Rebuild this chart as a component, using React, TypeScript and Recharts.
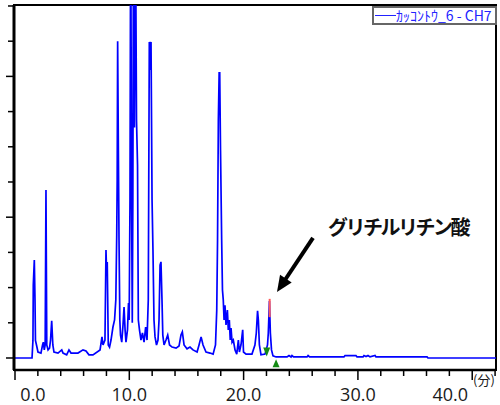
import {
  ComposedChart,
  Line,
  Scatter,
  XAxis,
  YAxis,
  ReferenceArea,
  ReferenceLine,
  Legend,
} from "recharts";

// retention time (min) and detector signal
const TIME_MIN = [
  0, 1.49, 1.57, 1.6, 1.69, 1.75, 1.79, 1.88, 2.01, 2.27, 2.41, 2.48, 2.56, 2.64, 2.71, 2.78, 2.89,
  3.02, 3.11, 3.21, 3.31, 3.41, 3.76, 4.09, 4.2, 4.52, 4.72, 4.9, 5.51, 5.95, 6.21, 6.47, 6.82,
  7.44, 7.61, 7.7, 7.87, 7.96, 8.02, 8.07, 8.16, 8.27, 8.4, 8.57, 8.71, 8.82, 8.9, 8.94, 8.98,
  9.05, 9.1, 9.17, 9.23, 9.34, 9.45, 9.54, 9.63, 9.71, 9.84, 9.93, 9.99, 10.06, 10.12, 10.2,
  10.26, 10.31, 10.37, 10.45, 10.54, 10.63, 10.72, 10.79, 10.89, 11.02, 11.15, 11.29, 11.43,
  11.55, 11.66, 11.75, 11.83, 11.9, 11.99, 12.07, 12.16, 12.25, 12.38, 12.51, 12.6, 12.69, 12.77,
  12.86, 12.93, 13.04, 13.21, 13.36, 13.52, 13.74, 14.09, 14.35, 14.52, 14.64, 14.79, 15.05,
  15.31, 15.57, 15.93, 16.1, 16.28, 16.45, 16.71, 17.06, 17.33, 17.54, 17.65, 17.72, 17.79,
  17.86, 17.91, 17.98, 18.08, 18.15, 18.22, 18.29, 18.37, 18.46, 18.58, 18.66, 18.75, 18.83,
  18.9, 18.99, 19.1, 19.25, 19.4, 19.54, 19.63, 19.77, 19.92, 19.99, 20.21, 20.73, 20.99, 21.11,
  21.22, 21.29, 21.38, 21.52, 21.87, 22.09, 22.16, 22.26, 22.34, 22.44, 22.57, 22.84, 23.8,
  23.97, 24.15, 24.23, 24.37, 25.55, 25.64, 25.77, 28.78, 28.87, 29.83, 29.92, 30.45, 30.53,
  30.71, 30.88, 31.06, 31.5, 31.58, 36.05, 36.13, 42.08,
];
const SIGNAL = [
  0, 0, 0.5, 2.07, 2.78, 1.65, 0.5, 0.37, 0.17, 0.14, 0.37, 0.45, 0.23, 0.37, 4.77, 0.37, 0.23,
  0.28, 0.51, 1.06, 0.37, 0.17, 0.14, 0.23, 0.14, 0.09, 0.23, 0.14, 0.14, 0.23, 0.2, 0.09, 0.09,
  0.23, 0.6, 0.37, 0.51, 3.07, 2.36, 2.73, 0.37, 0.31, 0.51, 0.88, 1.08, 1.65, 3.5, 5.06, 9.0,
  5.6, 3.35, 1.08, 0.65, 0.45, 0.94, 1.45, 0.8, 0.45, 0.8, 1.56, 1.08, 4.5, 13, 4.5,
  1.0, 4.5, 13, 6.55, 12.5, 6.76, 5.48, 1.08, 0.8, 0.51, 0.71, 0.45, 0.88,
  0.51, 1.65, 8.98, 8.18, 8.98, 4.49, 3.07, 1.08, 0.6, 0.37, 0.51, 1.08, 2.64, 2.73,
  1.65, 0.65, 0.37, 0.51, 0.65, 0.37, 0.31, 0.28, 0.34, 0.65, 0.74, 0.37, 0.26,
  0.31, 0.23, 0.17, 0.37, 0.6, 0.37, 0.17, 0.14, 0.11, 0.37, 1.36, 3.35, 6.76,
  8.1, 8.1, 5.9, 3.35, 1.93, 1.65, 1.08, 1.5, 0.94, 1.36, 0.8, 1.08, 0.51,
  0.85, 0.45, 0.51, 0.23, 0.11, 0.51, 0.17, 0.37, 0.8, 0.17, 0.11, 0.11, 0.37, 0.71,
  1.34, 1.08, 0.37, 0.09, 0.11, 0.37, 0.71, 1.62, 0.71, 0.23, 0.06, 0.03, 0.03,
  0.07, 0.03, 0.07, 0.03, 0.03, 0.07, 0.03, 0.03, 0.07, 0.07, 0.03, 0.03, 0.07,
  0.04, 0.07, 0.03, 0.07, 0.03, 0.03, 0, 0,
];

// detected peak top (red) and integration start / end markers
const PEAK_TIME = [22.28, 22.28];
const PEAK_LEVEL = [1.68, 1.16];
const MARK_TIME = [22.02, 22.84];
const MARK_LEVEL = [0.17, -0.15];
const MARK_KIND = ["start", "end"];

const X_TICKS = [0, 2, 4, 6, 8, 10, 12, 14, 16, 18, 20, 22, 24, 26, 28, 30, 32, 34, 36, 38, 40, 42];
const Y_TICKS = [0, 1, 2, 3, 4, 5, 6, 7, 8, 9, 10];
const X_DOMAIN: [number, number] = [-0.0875, 42.08];
const Y_DOMAIN: [number, number] = [-0.341, 10.028];

const SERIES_NAME = "ｶｯｺﾝﾄｳ_6 - CH7";
const PEAK_NAME = "グリチルリチン酸";

const trace = TIME_MIN.map((t, i) => ({ t, v: SIGNAL[i] }));
const peakTop = PEAK_TIME.map((t, i) => ({ t, v: PEAK_LEVEL[i] }));
const marks = MARK_TIME.map((t, i) => ({ t, v: MARK_LEVEL[i], kind: MARK_KIND[i] }));

function TimeTick({ x, y, payload }: any) {
  const v = payload.value;
  const major = v % 10 === 0;
  const shift = v === 0 ? 18 : v === 40 ? -22 : 0;
  return (
    <g>
      <line x1={x} x2={x} y1={y} y2={y + (major ? 10 : 6)} stroke="#000" strokeWidth={1.5} />
      {major && (
        <text
          x={x + shift}
          y={y + 31}
          textAnchor="middle"
          fontSize={18}
          fontFamily="'Open Sans', sans-serif"
          fill="#1a1a1a"
        >
          {v.toFixed(1)}
        </text>
      )}
    </g>
  );
}

function LevelTick({ x, y, payload }: any) {
  const major = payload.value % 4 === 0;
  return <line x1={x - (major ? 8 : 6)} x2={x} y1={y} y2={y} stroke="#000" strokeWidth={1.5} />;
}

function Marker({ cx, cy, payload }: any) {
  const pts =
    payload.kind === "start"
      ? `${cx - 3.5},${cy - 4.5} ${cx + 3.5},${cy - 4.5} ${cx},${cy + 4.5}`
      : `${cx - 3.5},${cy + 4} ${cx + 3.5},${cy + 4} ${cx},${cy - 4}`;
  return <polygon points={pts} fill="#138a13" />;
}

function Arrow({ x1, y1, x2, y2 }: any) {
  const dx = x2 - x1;
  const dy = y2 - y1;
  const len = Math.sqrt(dx * dx + dy * dy);
  const ux = dx / len;
  const uy = dy / len;
  const bx = x2 - ux * 16;
  const by = y2 - uy * 16;
  const head = `${x2},${y2} ${bx - uy * 7},${by + ux * 7} ${bx + uy * 7},${by - ux * 7}`;
  return (
    <g>
      <line x1={x1} y1={y1} x2={x2 - ux * 12} y2={y2 - uy * 12} stroke="#000" strokeWidth={4} />
      <polygon points={head} fill="#000" />
      <text
        x={x1 + 15}
        y={y1 - 3}
        fontSize={20}
        fontWeight={700}
        letterSpacing={-2.5}
        fontFamily="'Noto Sans CJK JP', sans-serif"
        fill="#111"
      >
        {PEAK_NAME}
      </text>
    </g>
  );
}

function LegendBox() {
  return (
    <div
      style={{
        boxSizing: "border-box",
        width: 125,
        height: 19,
        border: "2px solid #666",
        background: "#fff",
        display: "flex",
        alignItems: "center",
        fontFamily: "'Noto Sans CJK JP', sans-serif",
        fontSize: 14,
        color: "#2222ff",
        whiteSpace: "nowrap",
        overflow: "hidden",
      }}
    >
      <span style={{ display: "inline-block", width: 21, height: 1.5, background: "#2222ff", marginLeft: 1 }} />
      <span style={{ lineHeight: "15px" }}>{SERIES_NAME}</span>
    </div>
  );
}

export default function App() {
  return (
    <div style={{ position: "fixed", left: 0, top: 0, width: 500, height: 405, background: "#fff" }}>
      <ComposedChart width={500} height={405} margin={{ top: 5, right: 4, bottom: 0, left: 0 }}>
        <XAxis
          dataKey="t"
          type="number"
          domain={X_DOMAIN}
          allowDataOverflow
          ticks={X_TICKS}
          interval={0}
          height={35}
          tickSize={0}
          tickMargin={0}
          tickLine={false}
          axisLine={{ stroke: "#000", strokeWidth: 2.5 }}
          tick={<TimeTick />}
        />
        <YAxis
          type="number"
          domain={Y_DOMAIN}
          allowDataOverflow
          ticks={Y_TICKS}
          interval={0}
          width={14}
          tickSize={0}
          tickMargin={0}
          tickLine={false}
          axisLine={{ stroke: "#000", strokeWidth: 3 }}
          tick={<LevelTick />}
        />
        <ReferenceArea
          x1={X_DOMAIN[0]}
          x2={X_DOMAIN[1]}
          y1={Y_DOMAIN[0]}
          y2={Y_DOMAIN[1]}
          fill="none"
          stroke="#000"
          strokeWidth={2}
        />
        <Line
          data={trace}
          dataKey="v"
          type="linear"
          stroke="#0000ff"
          strokeWidth={1.7}
          dot={false}
          isAnimationActive={false}
        />
        <Line
          data={peakTop}
          dataKey="v"
          type="linear"
          stroke="#ff5a5a"
          strokeWidth={2}
          dot={false}
          isAnimationActive={false}
        />
        <Scatter data={marks} dataKey="v" shape={<Marker />} isAnimationActive={false} />
        <ReferenceLine
          segment={[
            { x: 26.07, y: 3.41 },
            { x: 22.92, y: 1.875 },
          ]}
          shape={<Arrow />}
        />
        <Legend
          verticalAlign="middle"
          align="center"
          wrapperStyle={{ top: 6, left: 372, width: 125, height: 19 }}
          content={() => <LegendBox />}
        />
      </ComposedChart>
      <div
        style={{
          position: "absolute",
          left: 473,
          top: 372,
          fontSize: 13,
          fontFamily: "'Noto Sans CJK JP', sans-serif",
          color: "#1a1a1a",
          lineHeight: "16px",
        }}
      >
        (分)
      </div>
    </div>
  );
}
